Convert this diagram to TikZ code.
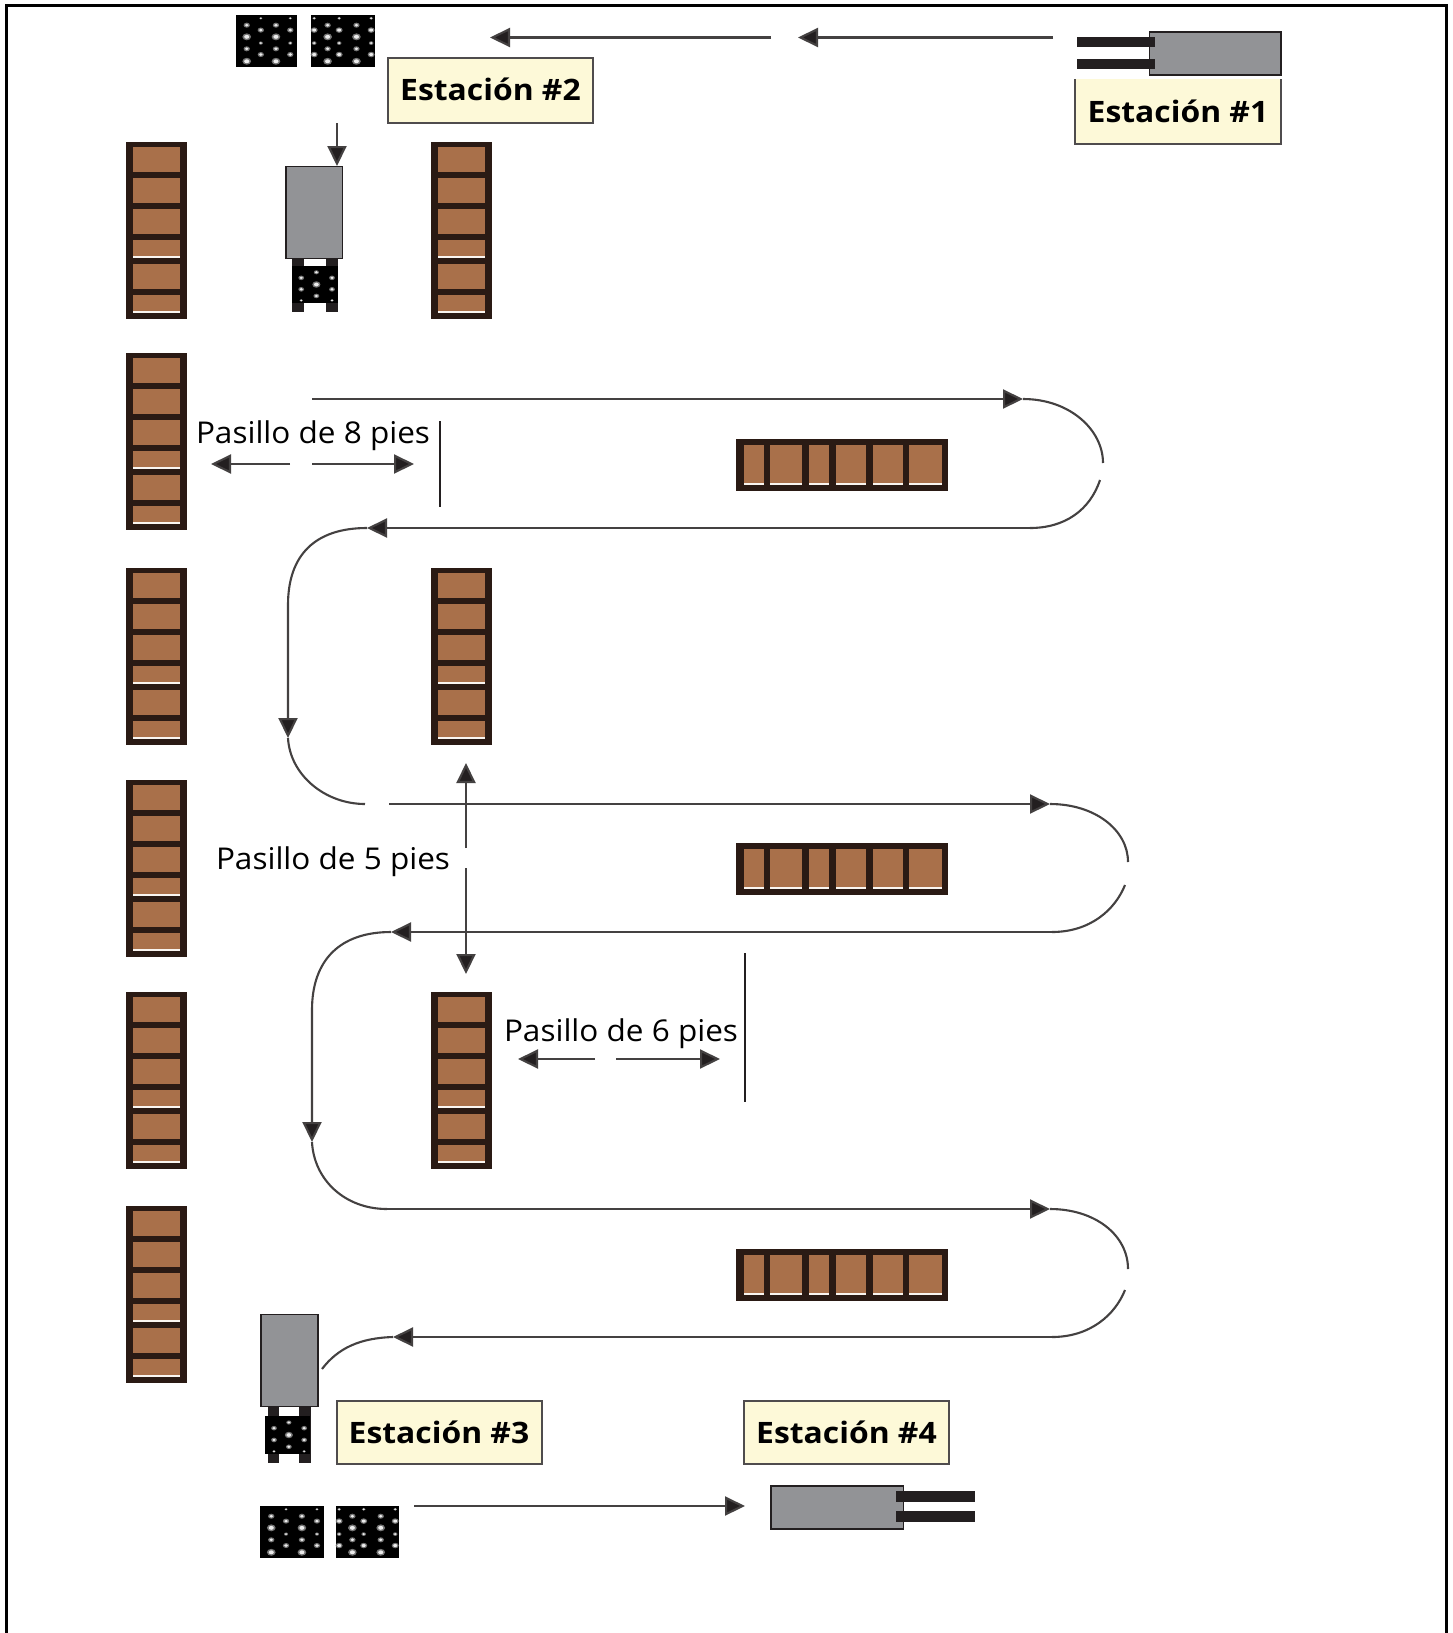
\documentclass[tikz,border=0pt]{standalone}
\usepackage{fontspec}
\setmainfont{Open Sans}
\newfontfamily\labfont[FakeStretch=1.05]{Open Sans}
\newfontfamily\stfont[FakeStretch=1.08]{Open Sans}
\usetikzlibrary{arrows.meta}
\definecolor{rackdark}{HTML}{2A1A14}
\definecolor{boxbrown}{HTML}{A9704A}
\definecolor{cream}{HTML}{FDF9D8}
\definecolor{truck}{HTML}{929396}
\definecolor{ink}{HTML}{231F20}
\tikzset{
  flow/.style={draw=ink!85!white,line width=2.1pt},
  tipped/.style={flow,-{Triangle[length=20pt,width=19pt,fill=ink]}},
  stationtext/.style={inner sep=0pt,font=\stfont\bfseries\fontsize{29.5}{31}\selectfont},
  station/.style={stationtext,draw=ink!80!white,line width=2pt,fill=cream,minimum height=0pt},
  lab/.style={inner sep=0pt,font=\labfont\fontsize{30}{32}\selectfont,text=black},
  truckbody/.style={fill=truck,draw=ink,line width=1.8pt},
  fork/.style={fill=ink,draw=none},
  frameline/.style={draw=black,line width=3pt},
  wall/.style={draw=ink,line width=2pt}
}
\newcommand{\vrack}[2]{%
\begin{scope}[shift={(#1,#2)}]
\fill[rackdark] (0,0) rectangle (61,177);
\foreach \a/\b in {5.5/30,36/61,67/92,98/116,122/147,153/171}{\fill[boxbrown] (6.5,\a) rectangle (54,\b);}
\fill[white!92!brown] (6.5,114.3) rectangle (54,116);
\fill[white!92!brown] (6.5,169.3) rectangle (54,171);
\end{scope}}
\newcommand{\hrack}[2]{%
\begin{scope}[shift={(#1,#2)}]
\fill[rackdark] (0,0) rectangle (212,52);
\foreach \a/\b in {7.5/27.5,34/65.5,73/92.5,100/129.5,137/166.5,173/205.5}{\fill[boxbrown] (\a,5.5) rectangle (\b,45.5);
\fill[white!92!brown] (\a,43.5) rectangle (\b,45.5);}
\end{scope}}
\newcommand{\dotat}[3]{% x, y, radius
\fill[white!45!black] (#1,#2) ellipse [x radius=#3*1.45pt,y radius=#3*1.15pt];
\fill[white!92!black] (#1,#2) ellipse [x radius=#3*0.85pt,y radius=#3*0.65pt];}
% pallet variant A
\newcommand{\palleta}[4]{%
\begin{scope}[shift={(#1,#2)},x=#3pt,y=-#4pt]
\fill[black] (0,0) rectangle (1,1);
\foreach \x in {0.176,0.655}{
 \dotat{\x}{0.196}{2.2}\dotat{\x}{0.42}{3}\dotat{\x}{0.65}{2.2}\dotat{\x}{0.89}{3}}
\foreach \x in {0.407,0.89}{
 \dotat{\x}{0.063}{1.1}\dotat{\x}{0.29}{2.2}\dotat{\x}{0.54}{1.4}\dotat{\x}{0.76}{2.2}}
\end{scope}}
% pallet variant B
\newcommand{\palletb}[4]{%
\begin{scope}[shift={(#1,#2)},x=#3pt,y=-#4pt]
\fill[black] (0,0) rectangle (1,1);
\foreach \x in {0.05,0.44,0.94}{
 \dotat{\x}{0.063}{1.3}\dotat{\x}{0.29}{2.4}\dotat{\x}{0.54}{1.6}\dotat{\x}{0.76}{2.4}}
\foreach \x in {0.26,0.71}{
 \dotat{\x}{0.196}{2.2}\dotat{\x}{0.42}{3}\dotat{\x}{0.65}{2.2}\dotat{\x}{0.89}{3}}
\end{scope}}
% small pallet carried by a truck
\newcommand{\palletc}[4]{%
\begin{scope}[shift={(#1,#2)},x=#3pt,y=-#4pt]
\fill[black] (0,0) rectangle (1,1);
\dotat{0.53}{0.17}{1.8}\dotat{0.53}{0.5}{2.8}\dotat{0.53}{0.81}{2}
\foreach \x in {0.2,0.87}{\dotat{\x}{0.32}{2}\dotat{\x}{0.63}{2}\dotat{\x}{0.93}{1.2}}
\end{scope}}
\begin{document}
\begin{tikzpicture}[x=1pt,y=-1pt]
\useasboundingbox (0,0) rectangle (1452,1633);
\fill[white] (0,0) rectangle (1452,1633);
% frame
\coordinate (fbl) at (6,1633);
\coordinate (ftl) at (6,5);
\coordinate (ftr) at (1446,5);
\coordinate (fbr) at (1446,1633);
\draw[frameline] (fbl) -- (ftl) -- (ftr) -- (fbr);
% racks
\foreach \y in {141.5,352.5,567.5,779.5,991.5,1205.5}{\vrack{126}{\y}}
\foreach \y in {141.5,567.5,991.5}{\vrack{431}{\y}}
\foreach \y in {439,843,1249}{\hrack{736}{\y}}
% pallets
\palleta{236}{15}{61}{52}
\palletb{311}{15}{64}{52}
\palleta{260}{1506}{64}{52}
\palletb{336}{1506}{63}{52}
% station 1 forklift
\fill[fork] (1077,37) rectangle (1155,47);
\fill[fork] (1077,59) rectangle (1155,69);
\draw[truckbody] (1149.5,32) rectangle (1281,75);
\fill[fork] (1149,37) rectangle (1155,47);
\fill[fork] (1149,59) rectangle (1155,69);
% station 2 forklift
\fill[fork] (292,259) rectangle (304,312);
\fill[fork] (326,259) rectangle (338,312);
\palletc{292}{266}{46}{37}
\draw[truckbody] (286,166.5) rectangle (342.5,258.5);
% station 3 forklift
\fill[fork] (268,1407) rectangle (279,1463);
\fill[fork] (299,1407) rectangle (311,1463);
\palletc{265}{1416}{45}{38}
\draw[truckbody] (261,1314.5) rectangle (318,1406.5);
% station 4 forklift
\fill[fork] (896,1491) rectangle (975,1502);
\fill[fork] (896,1511) rectangle (975,1522);
\draw[truckbody] (771,1486) rectangle (903.5,1529);
\fill[fork] (896,1491) rectangle (904,1502);
\fill[fork] (896,1511) rectangle (904,1522);
% stations
\node[station,minimum width=205pt,minimum height=65pt] (s2) at (490.5,90.5) {\raisebox{2pt}{Estación \#2}};
\fill[cream] (1075,79) rectangle (1281,144);
\coordinate (s1a) at (1075,79);
\coordinate (s1b) at (1075,144);
\coordinate (s1c) at (1281,144);
\coordinate (s1d) at (1281,79);
\draw[draw=ink!80!white,line width=2pt] (s1a) -- (s1b) -- (s1c) -- (s1d);
\node[stationtext] (s1) at (1178,111) {Estación \#1};
\node[station,minimum width=205pt,minimum height=63pt] (s3) at (439,1432) {Estación \#3};
\node[station,minimum width=205pt,minimum height=63pt] (s4) at (846.5,1432) {Estación \#4};
% arrow anchors
\coordinate (a1s) at (1053,37.5); \coordinate (a1e) at (798,37.5);
\coordinate (a2s) at (771,37.5); \coordinate (a2e) at (490,37.5);
\coordinate (a3s) at (337,123); \coordinate (a3e) at (337,166);
\draw[tipped] (a1s) -- (a1e);
\draw[tipped] (a2s) -- (a2e);
\draw[tipped] (a3s) -- (a3e);
% loop 1
\coordinate (l1a) at (312,399); \coordinate (l1b) at (1023,399);
\coordinate (l1c) at (1103,463); \coordinate (l1d) at (1100,480);
\coordinate (l1e) at (1030,528); \coordinate (l1f) at (367,528);
\coordinate (l1g) at (288,738); \coordinate (l1h) at (365,804);
\draw[tipped] (l1a) -- (l1b);
\draw[flow] (l1b) .. controls (1070,399) and (1103,430) .. (l1c);
\draw[flow] (l1d) .. controls (1090,510) and (1065,528) .. (l1e);
\draw[tipped] (l1e) -- (l1f);
\draw[tipped] (l1f) .. controls (315,528) and (288,555) .. (288,605) -- (l1g);
\draw[flow] (l1g) .. controls (290,775) and (325,804) .. (l1h);
% loop 2
\coordinate (l2a) at (389,804); \coordinate (l2b) at (1050,804);
\coordinate (l2c) at (1128,862); \coordinate (l2d) at (1125,885);
\coordinate (l2e) at (1052,932); \coordinate (l2f) at (391,932);
\coordinate (l2g) at (312,1142); \coordinate (l2h) at (387,1209);
\draw[tipped] (l2a) -- (l2b);
\draw[flow] (l2b) .. controls (1095,804) and (1128,830) .. (l2c);
\draw[flow] (l2d) .. controls (1115,910) and (1090,932) .. (l2e);
\draw[tipped] (l2e) -- (l2f);
\draw[tipped] (l2f) .. controls (340,932) and (312,960) .. (312,1010) -- (l2g);
\draw[flow] (l2g) .. controls (314,1180) and (345,1209) .. (l2h);
% loop 3
\coordinate (l3b) at (1050,1209);
\coordinate (l3c) at (1128,1269); \coordinate (l3d) at (1125,1290);
\coordinate (l3e) at (1052,1337); \coordinate (l3f) at (393,1337);
\coordinate (l3g) at (322,1369);
\draw[tipped] (l2h) -- (l3b);
\draw[flow] (l3b) .. controls (1095,1209) and (1128,1235) .. (l3c);
\draw[flow] (l3d) .. controls (1115,1315) and (1090,1337) .. (l3e);
\draw[tipped] (l3e) -- (l3f);
\draw[flow] (l3f) .. controls (360,1338) and (338,1348) .. (l3g);
% station 3 to 4
\coordinate (b1) at (414,1506); \coordinate (b2) at (745,1506);
\draw[tipped] (b1) -- (b2);
% 8 ft aisle
\node[lab] (p8) at (313,435.5) {Pasillo de 8 pies};
\coordinate (w8a) at (439.5,421); \coordinate (w8b) at (439.5,507);
\draw[wall] (w8a) -- (w8b);
\coordinate (p8a) at (290,464); \coordinate (p8b) at (211,464);
\coordinate (p8c) at (312,464); \coordinate (p8d) at (414,464);
\draw[tipped] (p8a) -- (p8b);
\draw[tipped] (p8c) -- (p8d);
% 5 ft aisle
\node[lab] (p5) at (333,862) {Pasillo de 5 pies};
\coordinate (d1) at (466,848); \coordinate (d2) at (466,763);
\coordinate (d3) at (466,868); \coordinate (d4) at (466,974);
\draw[tipped] (d1) -- (d2);
\draw[tipped] (d3) -- (d4);
% 6 ft aisle
\node[lab] (p6) at (621,1034) {Pasillo de 6 pies};
\coordinate (w6a) at (744.5,953); \coordinate (w6b) at (744.5,1102);
\draw[wall] (w6a) -- (w6b);
\coordinate (p6a) at (595,1059); \coordinate (p6b) at (518,1059);
\coordinate (p6c) at (616,1059); \coordinate (p6d) at (720,1059);
\draw[tipped] (p6a) -- (p6b);
\draw[tipped] (p6c) -- (p6d);
\end{tikzpicture}
\end{document}
